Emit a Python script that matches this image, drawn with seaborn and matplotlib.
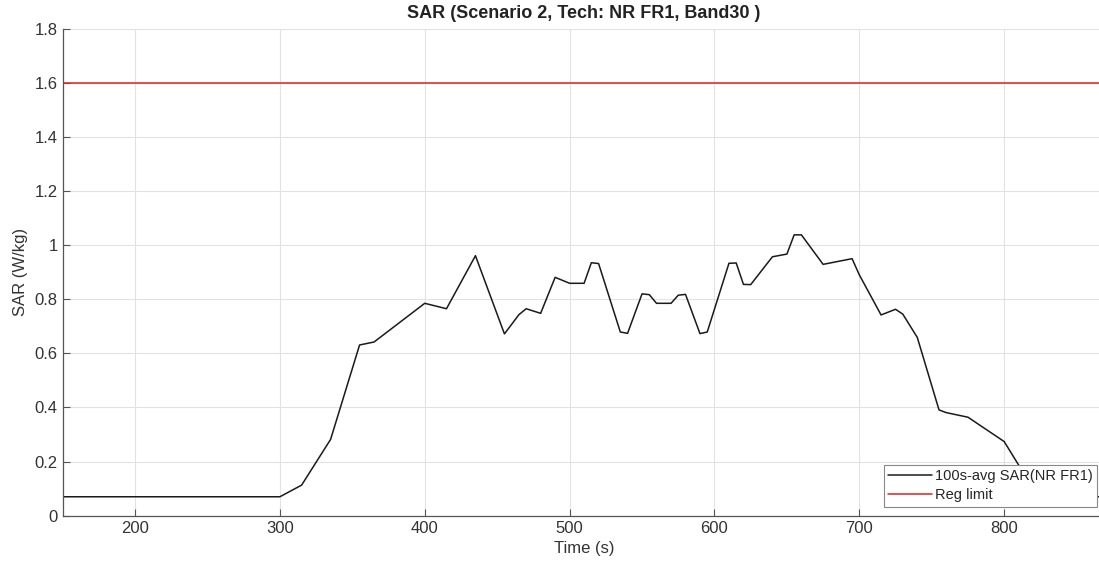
import numpy as np
import pandas as pd
import matplotlib
matplotlib.use("Agg")
import matplotlib.pyplot as plt
import seaborn as sns

# time (s) and 100s-averaged SAR (W/kg)
time_s = [150, 300, 315, 335, 355, 365, 400, 415, 435, 455, 465, 470, 480, 490, 500,
          510, 515, 520, 535, 540, 550, 555, 560, 570, 575, 580, 590, 595, 610, 615,
          620, 625, 640, 650, 655, 660, 675, 695, 700, 715, 725, 730, 740, 755, 760,
          775, 800, 810, 830, 900]
sar_avg = [0.07, 0.07, 0.113, 0.282, 0.631, 0.642, 0.785, 0.765, 0.961, 0.672, 0.743,
           0.765, 0.748, 0.881, 0.859, 0.859, 0.935, 0.932, 0.679, 0.674, 0.820, 0.817,
           0.785, 0.785, 0.815, 0.818, 0.673, 0.679, 0.933, 0.934, 0.855, 0.854, 0.957,
           0.967, 1.038, 1.038, 0.929, 0.950, 0.890, 0.742, 0.763, 0.745, 0.659, 0.391,
           0.381, 0.364, 0.274, 0.187, 0.07, 0.07]
reg_limit = 1.6
limit_x = [150, 900]

y_ticks = [0, 0.2, 0.4, 0.6, 0.8, 1.0, 1.2, 1.4, 1.6, 1.8]
y_tick_labels = ["0", "0.2", "0.4", "0.6", "0.8", "1", "1.2", "1.4", "1.6", "1.8"]
x_ticks = [200, 300, 400, 500, 600, 700, 800]

df = pd.DataFrame({"Time": time_s, "SAR": sar_avg})
lim_df = pd.DataFrame({"Time": limit_x, "SAR": [reg_limit] * len(limit_x)})

sns.set_style("whitegrid")
plt.rcParams['font.family'] = ['Liberation Sans', 'DejaVu Sans']

fig = plt.figure(figsize=(10.99, 5.69), dpi=100)
ax = fig.add_axes([62.6 / 1099, 53.3 / 569, 1043 / 1099, 487 / 569])

sns.lineplot(data=df, x="Time", y="SAR", color="#1a1a1a", lw=1.1,
             label="100s-avg SAR(NR FR1)", ax=ax)
sns.lineplot(data=lim_df, x="Time", y="SAR", color="#e0201e", lw=1.1,
             label="Reg limit", ax=ax)

ax.set_xlim(150, 870)
ax.set_ylim(0, 1.8)
ax.set_xticks(x_ticks)
ax.set_yticks(y_ticks)
ax.set_yticklabels(y_tick_labels)

ax.grid(True, color="#e2e2e2", lw=0.8)
for side in ["top", "right"]:
    ax.spines[side].set_visible(False)
for side in ["left", "bottom"]:
    ax.spines[side].set_color("#555555")
    ax.spines[side].set_linewidth(0.9)
ax.tick_params(direction="in", length=5, width=0.8, color="#555555",
               labelsize=12, labelcolor="#333333", left=True, bottom=True)

ax.set_xlabel("Time (s)", fontsize=12, color="#333333", labelpad=4)
ax.set_ylabel("SAR (W/kg)", fontsize=12, color="#333333", labelpad=5)
ax.set_title("SAR (Scenario 2, Tech: NR FR1, Band30 )", fontsize=13,
             fontweight="bold", color="#222222", pad=8)

leg = ax.legend(loc="lower right", bbox_to_anchor=(0.9918, 0.0185), borderaxespad=0,
                fontsize=10.5, frameon=True, fancybox=False, framealpha=1,
                edgecolor="#888888", labelspacing=0.35, borderpad=0.3,
                handlelength=3.0, handletextpad=0.2)
leg.get_frame().set_linewidth(0.8)

fig.savefig("out.png", dpi=100)
